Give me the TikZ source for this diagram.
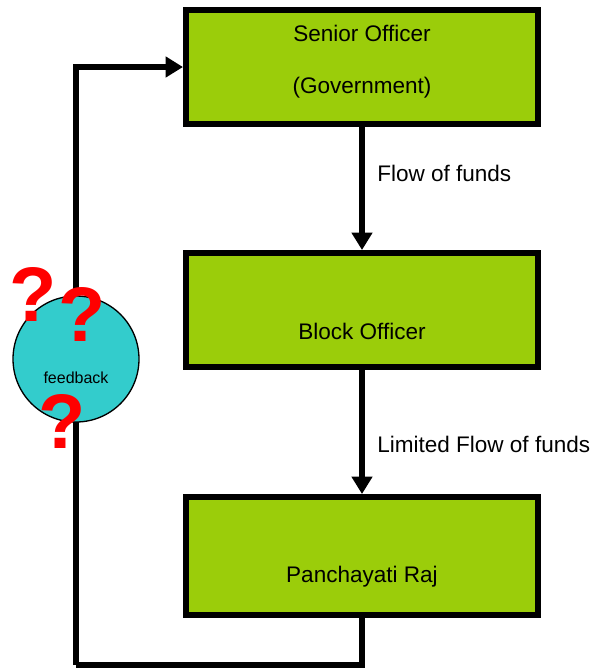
\documentclass[tikz,border=0pt]{standalone}
\usepackage{fontspec}
\setmainfont{Liberation Sans}
\usetikzlibrary{arrows.meta}
\definecolor{boxgreen}{RGB}{155,205,10}
\definecolor{fbcyan}{RGB}{51,204,204}
\newcommand\bigtext{\fontsize{16.9}{20}\selectfont}
\tikzset{
  stage/.style={draw=black, line width=4.5pt, fill=boxgreen, minimum width=264pt, minimum height=85.5pt, inner sep=0pt},
  stagetext/.style={font=\bigtext, inner sep=0pt},
  flow/.style={line width=4.5pt, -{Triangle[length=13pt,width=15pt]}},
  qmark/.style={text=red, font=\fontsize{58}{60}\selectfont\bfseries, inner sep=0pt}
}
\begin{document}
\begin{tikzpicture}[x=0.75pt,y=-0.75pt]
	\useasboundingbox (0,0) rectangle (592,669);
	% boxes
	\node[stage] (senior) at (362,67) {};
	\node[stage] (block) at (362,310) {};
	\node[stage, minimum height=88.5pt] (panchayat) at (362,556) {};
	\node[stagetext] (senior1) at (362,33) {Senior Officer};
	\node[stagetext] (senior2) at (362,88) {(Government)};
	\node[stagetext] (block1) at (362,331) {Block Officer};
	\node[stagetext] (panchayat1) at (362,577) {Panchayati Raj};
	% arrows
	\draw[flow] (senior.south) -- (block.north);
	\draw[flow] (block.south) -- (panchayat.north);
	\node[stagetext, anchor=west] (funds) at (377,173) {Flow of funds};
	\node[stagetext, anchor=west] (limited) at (377,444) {Limited Flow of funds};
	% feedback loop
	\coordinate (loopcorner) at (76,665);
	\draw[line width=4.5pt] (panchayat.south) |- (loopcorner);
	\draw[flow] (loopcorner) |- (senior.west);
	\node[circle, draw=black, line width=1pt, fill=fbcyan, minimum size=94.5pt, inner sep=0pt, font=\fontsize{12}{14}\selectfont] (feedback) at (76,359) {};
	\node[font=\fontsize{12}{14}\selectfont, inner sep=0pt] (feedback1) at (76,378) {feedback};
	\node[qmark] (q1) at (33,294) {?};
	\node[qmark] (q2) at (82,314) {?};
	\node[qmark] (q3) at (62,421) {?};
\end{tikzpicture}
\end{document}
